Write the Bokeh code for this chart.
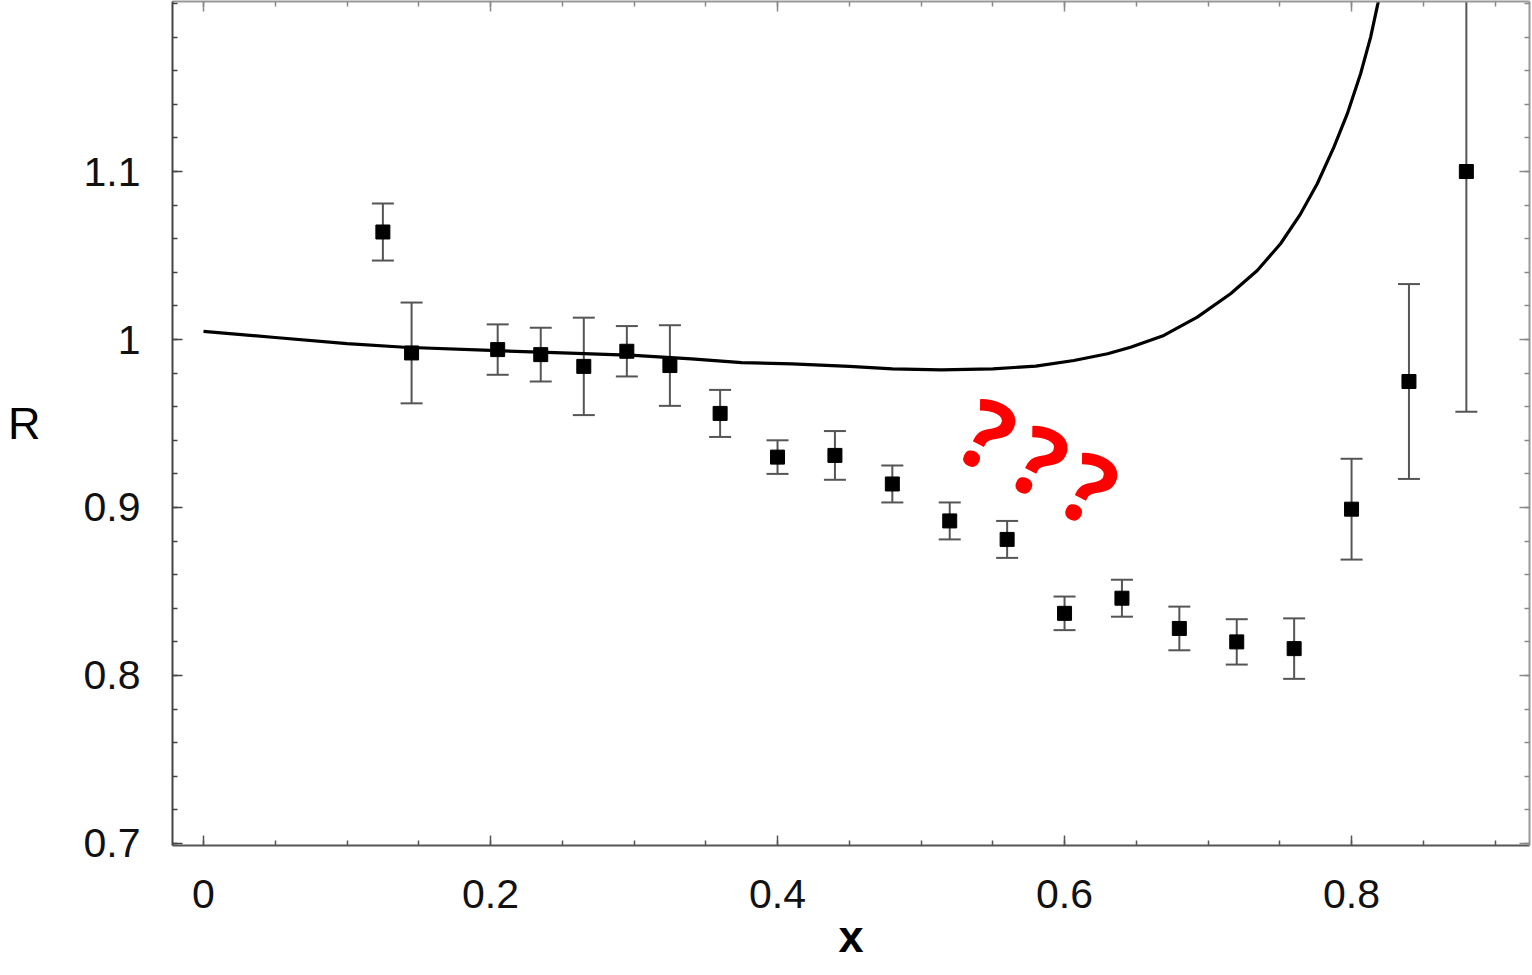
from bokeh.plotting import figure
from bokeh.models import (ColumnDataSource, Whisker, TeeHead, LinearAxis, FixedTicker, Range1d,
                          CustomLabelingPolicy)
from bokeh.core.properties import value
from bokeh.embed import file_html
from bokeh.resources import INLINE

# ---- data ----
x_data = [0.125, 0.145, 0.205, 0.235, 0.265, 0.295, 0.325, 0.36, 0.40, 0.44, 0.48,
          0.52, 0.56, 0.60, 0.64, 0.68, 0.72, 0.76, 0.80, 0.84, 0.88]
r_data = [1.064, 0.992, 0.994, 0.991, 0.984, 0.993, 0.9845, 0.956, 0.930, 0.931, 0.914,
          0.892, 0.881, 0.837, 0.846, 0.828, 0.820, 0.816, 0.899, 0.975, 1.100]
r_err = [0.017, 0.030, 0.015, 0.016, 0.029, 0.015, 0.024, 0.014, 0.010, 0.0145, 0.011,
         0.011, 0.011, 0.010, 0.011, 0.013, 0.0135, 0.018, 0.030, 0.058, 0.143]

x_curve = [0.0, 0.05, 0.10, 0.14, 0.20, 0.25, 0.30, 0.34, 0.375, 0.41, 0.45, 0.48, 0.514,
           0.55, 0.58, 0.6065, 0.63, 0.646, 0.6692, 0.6925, 0.7157, 0.7343, 0.7505, 0.7645,
           0.7761, 0.7877, 0.797, 0.8063, 0.8133, 0.8183, 0.821]
r_curve = [1.0048, 1.0012, 0.9975, 0.9954, 0.9935, 0.9920, 0.9905, 0.9885, 0.9862, 0.9855,
           0.9840, 0.9825, 0.9819, 0.9825, 0.9842, 0.9875, 0.9915, 0.9954, 1.0024, 1.0133,
           1.0272, 1.0411, 1.0570, 1.0748, 1.0927, 1.1145, 1.1343, 1.1582, 1.1800, 1.1998, 1.2120]

x_ticks = [0, 0.2, 0.4, 0.6, 0.8]
x_tick_labels = ["0", "0.2", "0.4", "0.6", "0.8"]
y_ticks = [0.7, 0.8, 0.9, 1.0, 1.1]
y_tick_labels = ["0.7", "0.8", "0.9", "1", "1.1"]

x_title = "x"
y_title = "R"

# annotation "???"
q_text = ["?", "?", "?"]
q_x = [0.547, 0.5833, 0.6181]
q_y = [0.9446, 0.9286, 0.9125]

x_minor = [round(-0.05 + 0.05 * i, 2) for i in range(21)]
y_minor = [round(0.68 + 0.02 * i, 2) for i in range(28)]

p = figure(width=1532, height=975,
           x_range=Range1d(-0.0216, 0.924), y_range=Range1d(0.6988, 1.2012),
           output_backend="svg", toolbar_location=None,
           min_border_left=172, min_border_right=3, min_border_top=1, min_border_bottom=130,
           background_fill_color="white", border_fill_color="white")
p.outline_line_color = None
p.grid.visible = False

xt = FixedTicker(ticks=x_ticks, minor_ticks=x_minor)
yt = FixedTicker(ticks=y_ticks, minor_ticks=y_minor)

font = "Liberation Sans"

xa = p.xaxis[0]
xa.ticker = xt
xa.major_label_overrides = dict(zip(x_ticks, x_tick_labels))
xa.axis_label = x_title
xa.axis_label_text_font = font
xa.axis_label_text_font_style = "bold"
xa.axis_label_text_font_size = "45px"
xa.axis_label_standoff = 0
xa.axis_label_text_color = "black"

ya = p.yaxis[0]
ya.ticker = yt
ya.major_label_overrides = dict(zip(y_ticks, y_tick_labels))
ya.axis_label = y_title
ya.axis_label_orientation = "horizontal"
ya.axis_label_text_font = font
ya.axis_label_text_font_style = "normal"
ya.axis_label_text_font_size = "45px"
ya.axis_label_standoff = 40
ya.axis_label_text_color = "black"

for ax, col in ((xa, "#555555"), (ya, "#444444")):
    ax.major_label_text_font = font
    ax.major_label_text_font_size = "41px"
    ax.major_label_text_color = "#111111"
    ax.axis_line_color = col
    ax.axis_line_width = 2
    ax.major_tick_in = 10
    ax.major_tick_out = 0
    ax.minor_tick_in = 5
    ax.minor_tick_out = 0
    ax.major_tick_line_color = col
    ax.minor_tick_line_color = col
    ax.major_tick_line_width = 1.5
    ax.minor_tick_line_width = 1.5
xa.major_label_standoff = 34
ya.major_label_standoff = 32

for ticker, place in ((xt, "above"), (yt, "right")):
    ax = LinearAxis(ticker=ticker, major_label_text_font_size="0px", major_label_standoff=0,
                    major_label_policy=CustomLabelingPolicy(code="return new Set()"),
                    axis_line_color="#999999", axis_line_width=2,
                    major_tick_in=10, major_tick_out=0, minor_tick_in=5, minor_tick_out=0,
                    major_tick_line_color="#888888", minor_tick_line_color="#888888",
                    major_tick_line_width=1.5, minor_tick_line_width=1.5)
    p.add_layout(ax, place)

src = ColumnDataSource(dict(
    x=x_data, r=r_data,
    upper=[r + e for r, e in zip(r_data, r_err)],
    lower=[r - e for r, e in zip(r_data, r_err)],
))

err = Whisker(base="x", upper="upper", lower="lower", source=src,
              line_color="#555555", line_width=2,
              upper_head=TeeHead(size=22, line_color="#555555", line_width=2),
              lower_head=TeeHead(size=22, line_color="#555555", line_width=2))
p.add_layout(err)

p.line(x_curve, r_curve, line_color="black", line_width=3.2)
p.scatter("x", "r", source=src, marker="square", size=14, fill_color="black", line_color="black")

p.text(x=q_x, y=q_y, text=q_text, angle=-0.47, text_align="center", text_baseline="middle",
       text_font=value("Open Sans"), text_font_style="bold", text_font_size="96px",
       text_color="#ff0000")

open("out.html", "w").write(file_html(p, INLINE))
